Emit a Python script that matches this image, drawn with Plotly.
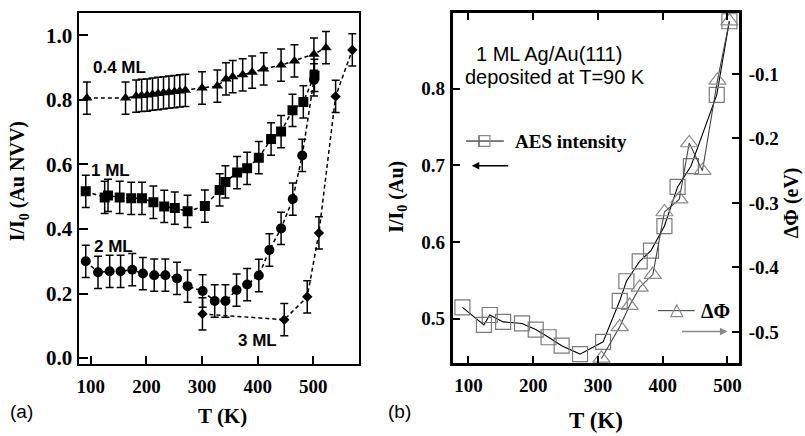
import plotly.graph_objects as go

W, H = 805, 436

# ---------------- Panel (a) data ----------------
t_04 = [93, 162.5, 181.6, 191.4, 201.3, 211, 221, 230.7, 240.5, 250.4, 260, 270,
        300, 327.5, 343, 355, 373, 390, 410.7, 442, 466, 501, 522.7]
i_04 = [0.806, 0.806, 0.812, 0.814, 0.815, 0.818, 0.820, 0.822, 0.824, 0.826, 0.828, 0.830,
        0.837, 0.843, 0.865, 0.872, 0.878, 0.886, 0.896, 0.908, 0.921, 0.942, 0.962]

t_1 = [91, 125, 131, 152, 172.7, 192, 212.5, 232, 251, 274, 305, 331.6, 342, 363, 381,
       402, 424, 442, 462.5, 482, 502]
i_1 = [0.517, 0.498, 0.504, 0.498, 0.495, 0.495, 0.483, 0.470, 0.465, 0.455, 0.471, 0.521,
       0.546, 0.575, 0.588, 0.621, 0.679, 0.702, 0.768, 0.794, 0.876]

t_2 = [91, 113, 134, 153.6, 174.5, 193.6, 214, 234, 255, 274, 301, 322.7, 342, 362, 381,
       402, 421, 442, 463, 480, 501]
i_2 = [0.300, 0.266, 0.269, 0.269, 0.274, 0.262, 0.257, 0.257, 0.247, 0.223, 0.208, 0.177,
       0.177, 0.211, 0.228, 0.256, 0.335, 0.402, 0.493, 0.628, 0.862]

t_3 = [300.7, 447.7, 489, 510, 540, 570]
i_3 = [0.137, 0.119, 0.190, 0.388, 0.811, 0.955]

err_a = 0.05

# ---------------- Panel (b) data ----------------
t_aes = [90.8, 124, 133, 153.7, 182.8, 204, 223.8, 244, 272.4, 308, 333.7, 344, 364.5,
         382, 402.7, 423, 443.6, 483.5, 503]
i_aes = [0.515, 0.492, 0.505, 0.496, 0.494, 0.486, 0.476, 0.465, 0.454, 0.470, 0.5235,
         0.549, 0.575, 0.589, 0.621, 0.672, 0.699, 0.792, 0.888]

t_dphi = [305.5, 333.7, 349, 364.5, 384.8, 402.7, 425.7, 441, 461.4, 484.6, 503]
dphi = [-0.541, -0.492, -0.459, -0.431, -0.411, -0.314, -0.294, -0.207, -0.250, -0.110, -0.018]

xt_a = [100, 200, 300, 400, 500]
yt_a = [0.0, 0.2, 0.4, 0.6, 0.8, 1.0]
xt_b = [100, 200, 300, 400, 500]
yt_b = [0.5, 0.6, 0.7, 0.8]
yt_b2 = [-0.5, -0.4, -0.3, -0.2, -0.1]


def px(x):
    return x / W


def py(y):
    return 1 - y / H


fig = go.Figure()

dash_line = dict(color="black", width=1.5, dash="4px,3px")
ebar = dict(type="constant", value=err_a, color="black", thickness=1.5, width=4)

fig.add_trace(go.Scatter(x=t_04, y=i_04, mode="lines+markers", line=dash_line,
                         marker=dict(symbol="triangle-up", size=10, color="black"),
                         error_y=ebar, xaxis="x", yaxis="y"))
fig.add_trace(go.Scatter(x=t_1, y=i_1, mode="lines+markers", line=dash_line,
                         marker=dict(symbol="square", size=10, color="black"),
                         error_y=ebar, xaxis="x", yaxis="y"))
fig.add_trace(go.Scatter(x=t_2, y=i_2, mode="lines+markers", line=dash_line,
                         marker=dict(symbol="circle", size=10, color="black"),
                         error_y=ebar, xaxis="x", yaxis="y"))
fig.add_trace(go.Scatter(x=t_3, y=i_3, mode="lines+markers", line=dash_line,
                         marker=dict(symbol="diamond", size=8, color="black"),
                         error_y=ebar, xaxis="x", yaxis="y"))

# Panel (b)
fig.add_trace(go.Scatter(x=t_dphi, y=dphi, mode="lines+markers",
                         line=dict(color="#444", width=1.1),
                         marker=dict(symbol="triangle-up-open", size=15, color="#8a8a8a",
                                     line=dict(width=1.2, color="#8a8a8a")),
                         xaxis="x2", yaxis="y3"))
fig.add_trace(go.Scatter(x=t_aes, y=i_aes, mode="lines+markers",
                         line=dict(color="black", width=1.1),
                         marker=dict(symbol="square-open", size=15, color="#7a7a7a",
                                     line=dict(width=1.2, color="#7a7a7a")),
                         xaxis="x2", yaxis="y2"))

tickfont = dict(family="Liberation Serif", size=19, color="black", weight="bold")
tickfont_ya = dict(family="Liberation Serif", size=21, color="black", weight="bold")

common = dict(showgrid=False, zeroline=False, showline=True, linecolor="black",
              ticks="inside", tickcolor="black")

fig.update_layout(
    width=W, height=H, margin=dict(l=0, r=0, t=0, b=0),
    paper_bgcolor="white", plot_bgcolor="white", showlegend=False,
    xaxis=dict(domain=[px(77), px(359)], range=[78, 581.6], anchor="y",
               tickvals=xt_a, ticklen=8, tickwidth=2, linewidth=2, mirror=True,
               ticklabelstandoff=4, tickfont=tickfont, **common),
    yaxis=dict(domain=[py(369), py(13)], range=[-0.018, 1.07], anchor="x",
               tickvals=yt_a, tickformat=".1f", ticklen=9, tickwidth=2, linewidth=2,
               mirror=True, ticklabelstandoff=0, tickfont=tickfont_ya, **common),
    xaxis2=dict(domain=[px(454.3), px(741.7)], range=[77, 518], anchor="y2",
                tickvals=xt_b, ticklen=7, tickwidth=1.5, linewidth=2.5, mirror="ticks",
                ticklabelstandoff=4, tickfont=tickfont, **common),
    yaxis2=dict(domain=[py(368), py(13)], range=[0.4425, 0.899], anchor="x2",
                tickvals=yt_b, tickformat=".1f", ticklen=7, tickwidth=1.5, linewidth=2.5,
                mirror=True, ticklabelstandoff=2, tickfont=tickfont, **common),
    yaxis3=dict(overlaying="y2", side="right", range=[-0.548, -0.0052], anchor="x2",
                tickvals=yt_b2, ticktext=["-0.5", "-0.4", "-0.3", "-0.2", "-0.1"],
                ticklen=7, tickwidth=1.5, linewidth=2.5, ticklabelstandoff=3,
                tickfont=tickfont, **common),
)

serif_b = dict(family="Liberation Serif", color="black", weight="bold")
sans_b = dict(family="Liberation Sans", color="black", weight="bold")
sans = dict(family="Liberation Sans", color="black")


def ann(x, y, text, font, size, angle=0, xanchor="center"):
    f = dict(font)
    f["size"] = size
    fig.add_annotation(x=px(x), y=py(y), xref="paper", yref="paper", text=text,
                       showarrow=False, font=f, textangle=angle, xanchor=xanchor,
                       yanchor="middle")


# Panel (a) labels
ann(118.5, 68, "0.4 ML", sans_b, 17)
ann(109, 173, "1 ML", sans_b, 17)
ann(112, 250, "2 ML", sans_b, 17)
ann(257, 345, "3 ML", sans_b, 17)
ann(17, 184, "I/I<sub>0</sub> (Au NVV)", serif_b, 20, angle=-90)
ann(222, 422, "T (K)", serif_b, 21)
ann(20, 417, "(a)", sans, 19)

# Panel (b) labels
ann(550, 55, "1 ML Ag/Au(111)", sans, 20)
ann(556, 78, "deposited at T=90 K", sans, 20)
ann(398, 200, "I/I<sub>0</sub> (Au)", serif_b, 20, angle=-90)
ann(598, 426, "T (K)", serif_b, 23)
ann(400, 417, "(b)", sans, 19)
ann(794, 206, "ΔΦ (eV)", serif_b, 20, angle=-90)
ann(514, 143, "AES intensity", serif_b, 19, xanchor="left")
ann(701, 315, "ΔΦ", serif_b, 20, xanchor="left")

# legend samples
fig.add_shape(type="line", xref="paper", yref="paper", x0=px(467), x1=px(505),
              y0=py(143), y1=py(143), line=dict(color="black", width=1))
fig.add_shape(type="line", xref="paper", yref="paper", x0=px(480), x1=px(480),
              y0=py(137), y1=py(149), line=dict(color="black", width=1))
fig.add_shape(type="rect", xref="paper", yref="paper", x0=px(480), x1=px(491),
              y0=py(148.5), y1=py(137.5), line=dict(color="#8a8a8a", width=1.2))
fig.add_shape(type="line", xref="paper", yref="paper", x0=px(660), x1=px(697),
              y0=py(315), y1=py(315), line=dict(color="#333", width=1))
fig.add_shape(type="path", xref="paper", yref="paper",
              path=f"M {px(673)} {py(321)} L {px(685)} {py(321)} L {px(679)} {py(309)} Z",
              line=dict(color="#8a8a8a", width=1.2))

# arrows
fig.add_annotation(x=px(472.7), y=py(168), xref="paper", yref="paper", ax=38, ay=0,
                   text="", showarrow=True, arrowhead=2, arrowsize=1, arrowwidth=1.5,
                   arrowcolor="black")
fig.add_annotation(x=px(730), y=py(336), xref="paper", yref="paper", ax=-47, ay=0,
                   text="", showarrow=True, arrowhead=2, arrowsize=1, arrowwidth=1.5,
                   arrowcolor="#888")

fig.write_html("out.html")
